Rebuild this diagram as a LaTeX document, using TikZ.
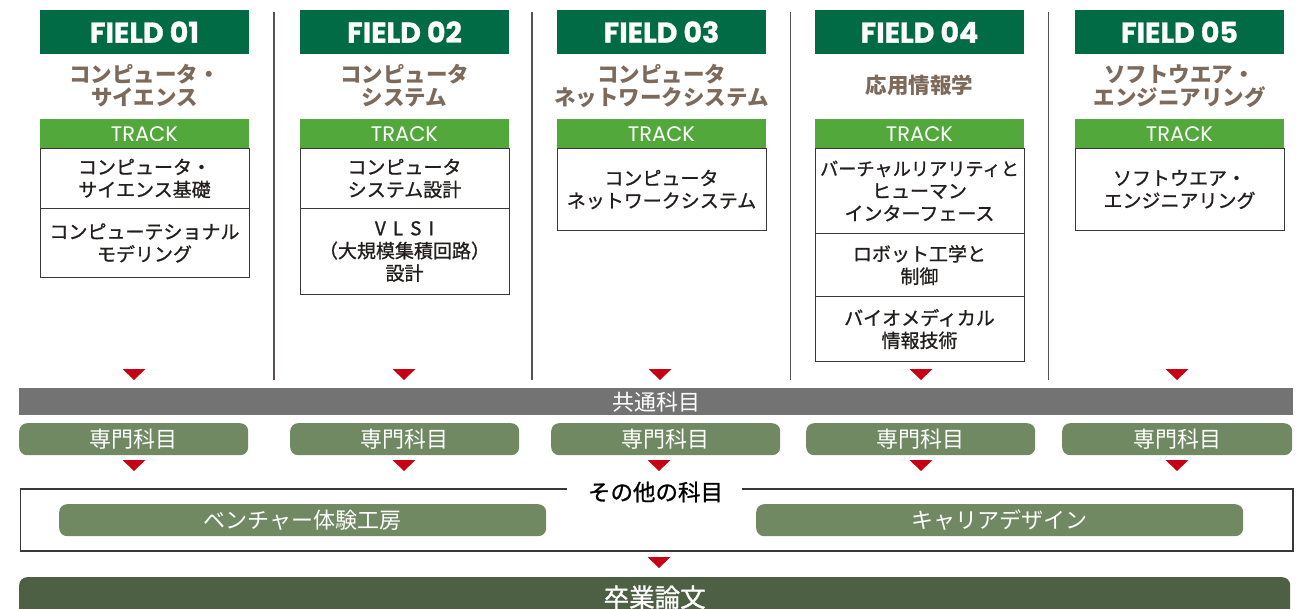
\documentclass[tikz,border=0pt]{standalone}
\usepackage{fontspec}
\setmainfont{Noto Sans CJK JP}
\newfontfamily\latf{Poppins}
\newfontfamily\jpmed[FakeBold=1]{Noto Sans CJK JP}
\newfontfamily\latheavy[FakeBold=1]{Poppins}
\definecolor{fieldgreen}{RGB}{0,107,69}
\definecolor{trackgreen}{RGB}{82,168,58}
\definecolor{titlebrown}{RGB}{125,106,90}
\definecolor{barGray}{RGB}{115,115,115}
\definecolor{mutedgreen}{RGB}{112,137,99}
\definecolor{darkolive}{RGB}{78,96,68}
\definecolor{trired}{RGB}{200,0,20}
\definecolor{boxline}{RGB}{60,55,55}
\definecolor{textdark}{RGB}{35,30,30}
\definecolor{sepcol}{RGB}{90,80,80}
\newcommand\redtri[2]{\fill[trired] (#1-11.5,#2) -- (#1+11.5,#2) -- (#1,#2+11) -- cycle;}
\begin{document}
\begin{tikzpicture}[x=1pt,y=-1pt,
  fieldhead/.style={fill=fieldgreen,text=white,minimum width=209pt,minimum height=44pt,inner sep=0pt,
    font=\latheavy\bfseries\fontsize{28.5pt}{28.5pt}\selectfont},
  ftitle/.style={text=titlebrown,align=center,inner sep=0pt,
    font=\bfseries\fontsize{21.5pt}{23pt}\selectfont},
  trackbar/.style={fill=trackgreen,text=white,minimum width=209pt,minimum height=29pt,inner sep=0pt,anchor=north,
    font=\latf\fontsize{21pt}{21pt}\selectfont},
  tbox/.style={draw=boxline,line width=1pt,fill=white,minimum width=209pt,inner sep=0pt,anchor=north,
    align=center,text=textdark,font=\jpmed\fontsize{19pt}{22.5pt}\selectfont},
  commonbar/.style={fill=barGray,text=white,inner sep=0pt,anchor=north west,
    font=\fontsize{22pt}{22pt}\selectfont},
  senmon/.style={fill=mutedgreen,text=white,rounded corners=8pt,minimum width=229pt,minimum height=32pt,
    inner sep=0pt,anchor=north west,font=\fontsize{22pt}{22pt}\selectfont},
  sepline/.style={draw=sepcol,line width=1.2pt},
  framel/.style={draw=boxline,line width=1.2pt}
]
\useasboundingbox (0,0) rectangle (1303,609);

% separators
\draw[sepline] (274,12) -- (274,380);
\draw[sepline] (532,12) -- (532,380);
\draw[sepline] (790.5,12) -- (790.5,380);
\draw[sepline] (1048.5,12) -- (1048.5,380);

% headers
\node[fieldhead] (f1) at (144.5,32) {FIELD 01};
\node[fieldhead] (f2) at (404.5,32) {FIELD 02};
\node[fieldhead] (f3) at (661.5,32) {FIELD 03};
\node[fieldhead] (f4) at (919.5,32) {FIELD 04};
\node[fieldhead] (f5) at (1179.5,32) {FIELD 05};

% titles
\node[ftitle] (t1) at (144.5,86) {コンピュータ・\\サイエンス};
\node[ftitle] (t2) at (404.5,86) {コンピュータ\\システム};
\node[ftitle] (t3) at (661.5,86) {コンピュータ\\ネットワークシステム};
\node[ftitle] (t4) at (919.5,85) {応用情報学};
\node[ftitle] (t5) at (1179.5,86) {ソフトウエア・\\エンジニアリング};

% track bars
\node[trackbar] (k1) at (144.5,119) {TRACK};
\node[trackbar] (k2) at (404.5,119) {TRACK};
\node[trackbar] (k3) at (661.5,119) {TRACK};
\node[trackbar] (k4) at (919.5,119) {TRACK};
\node[trackbar] (k5) at (1179.5,119) {TRACK};

% track boxes
\node[tbox,minimum height=60pt] (b11) at (144.5,148) {コンピュータ・\\サイエンス基礎};
\node[tbox,minimum height=69pt] (b12) at (144.5,208) {コンピューテショナル\\モデリング};
\node[tbox,minimum height=60pt] (b21) at (404.5,148) {コンピュータ\\システム設計};
\node[tbox,minimum height=86pt] (b22) at (404.5,208) {V\hspace{7pt}L\hspace{7pt}S\hspace{7pt}I\\（大規模集積回路）\\設計};
\node[tbox,minimum height=82pt] (b31) at (661.5,148) {コンピュータ\\ネットワークシステム};
\node[tbox,minimum height=85pt] (b41) at (919.5,148) {{\fontsize{18.2pt}{22.5pt}\selectfont バーチャルリアリティと}\\ヒューマン\\インターフェース};
\node[tbox,minimum height=63pt] (b42) at (919.5,233) {ロボット工学と\\制御};
\node[tbox,minimum height=65pt] (b43) at (919.5,296) {バイオメディカル\\情報技術};
\node[tbox,minimum height=82pt] (b51) at (1179.5,148) {ソフトウエア・\\エンジニアリング};

% triangles row 1
\redtri{134}{369}
\redtri{404}{369}
\redtri{660}{369}
\redtri{921}{369}
\redtri{1177}{369}

% common bar
\node[commonbar,minimum width=1274pt,minimum height=27pt] (common) at (19,388) {共通科目};

% senmon
\node[senmon] (s1) at (19,423) {専門科目};
\node[senmon] (s2) at (290,423) {専門科目};
\node[senmon] (s3) at (551,423) {専門科目};
\node[senmon] (s4) at (806,423) {専門科目};
\node[senmon,minimum width=230pt] (s5) at (1062,423) {専門科目};

% triangles row 2
\redtri{134}{460}
\redtri{404}{460}
\redtri{659}{460}
\redtri{921}{460}
\redtri{1177}{460}

% other frame
\node[text=black,inner sep=0pt,font=\jpmed\fontsize{22.5pt}{22.5pt}\selectfont] (other) at (655.5,492) {その他の科目};
\coordinate (gl) at (567,489);
\coordinate (gr) at (742,489);
\draw[framel] (gl) -- (20.5,489) -- (20.5,551) -- (1293,551) -- (1293,489) -- (gr);
\node[senmon,minimum width=487pt] (venture) at (59,504) {ベンチャー体験工房};
\node[senmon,minimum width=487pt] (career) at (756,504) {キャリアデザイン};

% triangle row 3
\redtri{659}{557}

% graduation thesis
\node[fill=darkolive,text=white,rounded corners=8pt,minimum width=1271pt,minimum height=40pt,inner sep=0pt,
  anchor=north west,font=\jpmed\fontsize{25.5pt}{25.5pt}\selectfont] (thesis) at (19,577) {卒業論文};
\end{tikzpicture}
\end{document}
